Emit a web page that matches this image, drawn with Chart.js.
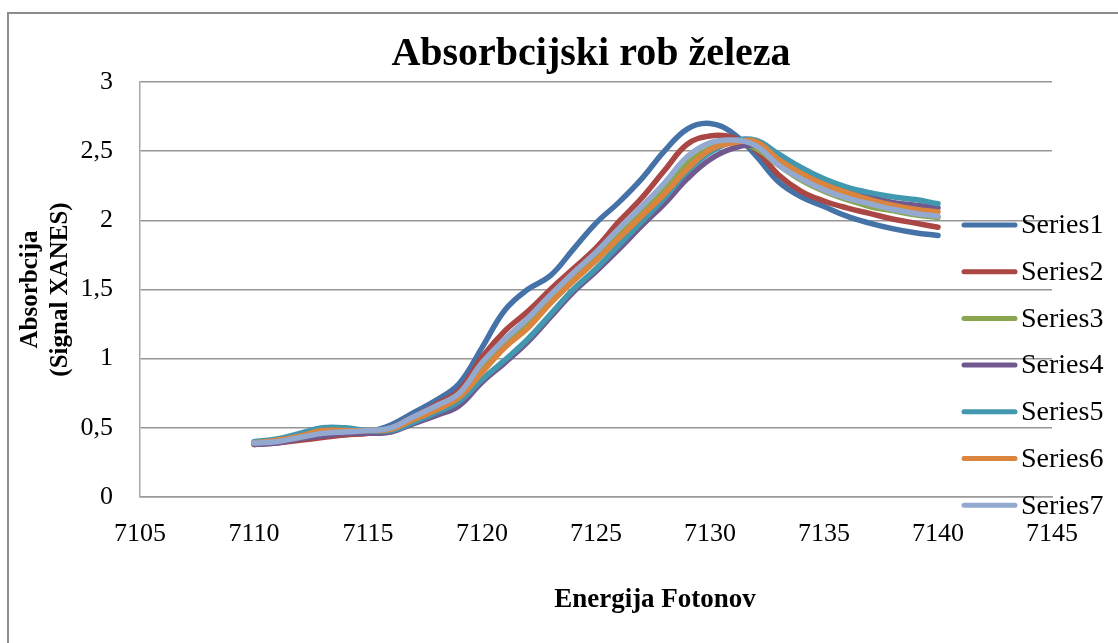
<!DOCTYPE html>
<html>
<head>
<meta charset="utf-8">
<title>Absorbcijski rob železa</title>
<script src="https://cdn.jsdelivr.net/npm/chart.js@4.4.0/dist/chart.umd.min.js"></script>
<style>
  html, body { margin: 0; padding: 0; background: #fff; overflow: hidden; }
  #frame { position: absolute; left: 7px; top: 12px; width: 1200px; height: 700px; border: 2px solid #8c8c8c; }
  #myChart { position: absolute; left: 0; top: 0; }
</style>
</head>
<body>
<div id="frame"></div>
<canvas id="myChart" width="1118" height="643"></canvas>
<script>
var chartTitle = 'Absorbcijski rob železa';
var xTitle = 'Energija Fotonov';
var yTitle = ['Absorbcija', '(Signal XANES)'];

// photon energy, eV
var energy = [7110, 7111, 7112, 7113, 7114, 7115, 7116, 7117, 7118, 7119, 7120,
  7121, 7122, 7123, 7124, 7125, 7126, 7127, 7128, 7129, 7130,
  7131, 7132, 7133, 7134, 7135, 7136, 7137, 7138, 7139, 7140];

var series1 = [0.39, 0.40, 0.42, 0.44, 0.45, 0.47, 0.52, 0.61, 0.70, 0.82, 1.08,
  1.35, 1.50, 1.60, 1.79, 1.98, 2.13, 2.30, 2.50, 2.66, 2.70,
  2.63, 2.47, 2.28, 2.17, 2.10, 2.03, 1.98, 1.94, 1.91, 1.89];
var series2 = [0.38, 0.39, 0.41, 0.43, 0.45, 0.46, 0.50, 0.58, 0.67, 0.77, 1.01,
  1.20, 1.34, 1.50, 1.65, 1.80, 1.99, 2.16, 2.36, 2.55, 2.61,
  2.60, 2.51, 2.33, 2.21, 2.14, 2.09, 2.05, 2.01, 1.98, 1.95];
var series3 = [0.39, 0.41, 0.44, 0.47, 0.48, 0.48, 0.49, 0.56, 0.63, 0.73, 0.93,
  1.12, 1.26, 1.43, 1.58, 1.73, 1.89, 2.05, 2.22, 2.41, 2.52,
  2.56, 2.52, 2.40, 2.29, 2.21, 2.15, 2.10, 2.07, 2.04, 2.02];
var series4 = [0.38, 0.39, 0.42, 0.44, 0.46, 0.46, 0.47, 0.53, 0.59, 0.66, 0.83,
  0.97, 1.12, 1.30, 1.48, 1.63, 1.79, 1.96, 2.12, 2.30, 2.44,
  2.52, 2.54, 2.47, 2.38, 2.29, 2.22, 2.17, 2.13, 2.11, 2.09];
var series5 = [0.40, 0.42, 0.46, 0.50, 0.50, 0.48, 0.48, 0.54, 0.61, 0.69, 0.85,
  0.99, 1.14, 1.32, 1.50, 1.65, 1.82, 1.99, 2.16, 2.35, 2.49,
  2.57, 2.58, 2.48, 2.38, 2.30, 2.24, 2.20, 2.17, 2.15, 2.12];
var series6 = [0.39, 0.41, 0.44, 0.48, 0.48, 0.48, 0.49, 0.56, 0.63, 0.72, 0.90,
  1.08, 1.22, 1.40, 1.56, 1.71, 1.87, 2.03, 2.19, 2.37, 2.51,
  2.56, 2.57, 2.44, 2.34, 2.26, 2.20, 2.15, 2.11, 2.08, 2.06];
var series7 = [0.39, 0.40, 0.43, 0.46, 0.47, 0.48, 0.50, 0.58, 0.66, 0.75, 0.97,
  1.14, 1.29, 1.46, 1.62, 1.77, 1.94, 2.10, 2.27, 2.46, 2.56,
  2.58, 2.54, 2.40, 2.30, 2.22, 2.16, 2.12, 2.08, 2.05, 2.03];

var seriesNames = ['Series1', 'Series2', 'Series3', 'Series4', 'Series5', 'Series6', 'Series7'];
var seriesColors = ['#4572A7', '#AA4643', '#89A54E', '#71588F', '#4198AF', '#DB843D', '#93A9CF'];
var allSeries = [series1, series2, series3, series4, series5, series6, series7];

var serif = '"Liberation Serif", "Times New Roman", serif';

var datasets = allSeries.map(function (vals, i) {
  return {
    label: seriesNames[i],
    data: vals.map(function (v, j) { return { x: energy[j], y: v }; }),
    borderColor: seriesColors[i],
    backgroundColor: seriesColors[i],
    borderWidth: 5.5,
    borderCapStyle: 'round',
    borderJoinStyle: 'round',
    pointRadius: 0,
    tension: 0.4,
    fill: false,
    order: 6 - i
  };
});

// title, x title and legend are placed like in the Excel original
var excelText = {
  id: 'excelText',
  afterDraw: function (chart) {
    var ctx = chart.ctx;
    ctx.save();
    ctx.fillStyle = '#000';
    ctx.textAlign = 'center';
    ctx.textBaseline = 'middle';
    ctx.font = 'bold 40px ' + serif;
    ctx.fillText(chartTitle, 591, 55);
    ctx.font = 'bold 27px ' + serif;
    ctx.fillText(xTitle, 655, 600);

    ctx.textAlign = 'left';
    ctx.font = '28px ' + serif;
    chart.data.datasets.forEach(function (ds, i) {
      var y = 225 + i * 46.7;
      ctx.strokeStyle = ds.borderColor;
      ctx.lineWidth = 5;
      ctx.lineCap = 'round';
      ctx.beginPath();
      ctx.moveTo(964, y);
      ctx.lineTo(1015, y);
      ctx.stroke();
      ctx.fillText(ds.label, 1021, y + 1);
    });
    ctx.restore();
  }
};

var chart = document.getElementById('myChart').getContext('2d');
var myChart = new Chart(chart, {
  type: 'line',
  data: { datasets: datasets },
  plugins: [excelText],
  options: {
    responsive: false,
    animation: false,
    layout: {
      padding: { left: 0, right: 66, top: 82, bottom: 0 }
    },
    scales: {
      x: {
        type: 'linear',
        min: 7105,
        max: 7145,
        afterFit: function (scale) { scale.height = 146; },
        grid: { display: false, drawTicks: false },
        border: { display: true, color: '#9a9a9a', width: 1.5 },
        ticks: {
          stepSize: 5,
          padding: 22,
          color: '#000',
          font: { family: serif, size: 26 },
          maxRotation: 0,
          callback: function (value) { return String(value); }
        }
      },
      y: {
        min: 0,
        max: 3,
        afterFit: function (scale) { scale.width = 140; },
        grid: { color: '#969696', lineWidth: 1.6, drawTicks: false },
        border: { display: true, color: '#a8a8a8', width: 1.5 },
        ticks: {
          stepSize: 0.5,
          padding: 27,
          color: '#000',
          font: { family: serif, size: 26 },
          callback: function (value) { return String(value).replace('.', ','); }
        },
        title: {
          display: true,
          text: yTitle,
          color: '#000',
          font: { family: serif, size: 25, weight: 'bold', lineHeight: 1.2 },
          padding: { top: 16, bottom: 0 }
        }
      }
    },
    plugins: {
      legend: { display: false },
      title: { display: false },
      tooltip: { enabled: false }
    }
  }
});
</script>
</body>
</html>
